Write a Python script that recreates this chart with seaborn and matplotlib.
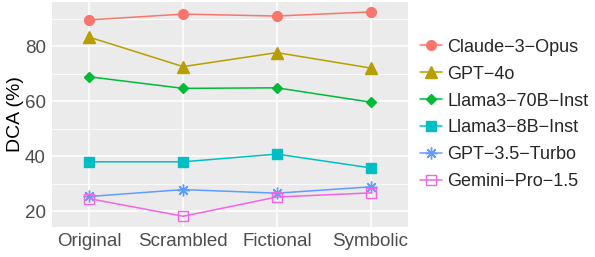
import matplotlib
matplotlib.use("Agg")
import matplotlib.pyplot as plt
from matplotlib.ticker import MultipleLocator, AutoMinorLocator
import seaborn as sns
import pandas as pd

# data
conditions = ["Original", "Scrambled", "Fictional", "Symbolic"]
models = ["Claude\u22123\u2212Opus", "GPT\u22124o", "Llama3\u221270B\u2212Inst",
          "Llama3\u22128B\u2212Inst", "GPT\u22123.5\u2212Turbo", "Gemini\u2212Pro\u22121.5"]
claude = [89.5, 91.6, 90.9, 92.4]
gpt4o = [83.2, 72.5, 77.6, 72.0]
llama70 = [68.8, 64.6, 64.8, 59.6]
llama8 = [37.9, 37.9, 40.7, 35.7]
gpt35 = [25.3, 27.8, 26.5, 28.8]
gemini = [24.5, 18.1, 25.1, 26.6]

colors = ["#F8766D", "#B79F00", "#00BA38", "#00BFC4", "#619CFF", "#F564E3"]
markers = ["o", "^", "D", "s", (8, 2, 0), "s"]
msizes = [7, 8.5, 5, 7, 8.5, 7]

sns.set_theme(style="darkgrid")
plt.rcParams["font.family"] = ["Liberation Sans", "DejaVu Sans"]

df = pd.DataFrame({"Condition": conditions * 6,
                   "DCA": claude + gpt4o + llama70 + llama8 + gpt35 + gemini,
                   "Model": [m for m in models for _ in conditions]})
df["x"] = df["Condition"].map({c: i for i, c in enumerate(conditions)})

fig = plt.figure(figsize=(5.95, 2.57), dpi=100)
ax = fig.add_axes([52 / 595, 1 - 227 / 257, 356 / 595, 225 / 257])
ax.set_facecolor("#EBEBEB")

for i, (m, c, mk, ms) in enumerate(zip(models, colors, markers, msizes)):
    sub = df[df["Model"] == m]
    face = "none" if i == 5 else c
    sns.lineplot(data=sub, x="x", y="DCA", ax=ax, color=c, marker=mk, markersize=ms,
                 markerfacecolor=face, markeredgecolor=c, markeredgewidth=1.0,
                 linewidth=1.1, label=m)

ax.set_xlim(-0.4, 3.4)
ax.set_ylim(14.2, 96)
ax.set_xticks(range(len(conditions)))
ax.set_xticklabels(conditions)
ax.yaxis.set_major_locator(MultipleLocator(20))
ax.yaxis.set_minor_locator(AutoMinorLocator(2))
ax.grid(which="major", color="white", linewidth=1.1)
ax.grid(which="minor", axis="y", color="white", linewidth=0.55)
ax.tick_params(axis="both", which="major", labelsize=13.5, labelcolor="#4D4D4D",
               length=3, color="#333333", width=0.6, pad=1.5)
ax.tick_params(axis="y", which="minor", length=0)
for s in ax.spines.values():
    s.set_visible(False)
ax.set_xlabel("")
ax.set_ylabel("DCA (%)", fontsize=14, color="black")
ax.yaxis.set_label_coords(-0.078, 0.5)

ax.legend(loc="center left", bbox_to_anchor=(1.034, 0.5), frameon=False,
          fontsize=13, handlelength=1.2, handletextpad=0.3, labelspacing=0.55,
          borderaxespad=0, borderpad=0)

fig.savefig("out.png", dpi=100)
